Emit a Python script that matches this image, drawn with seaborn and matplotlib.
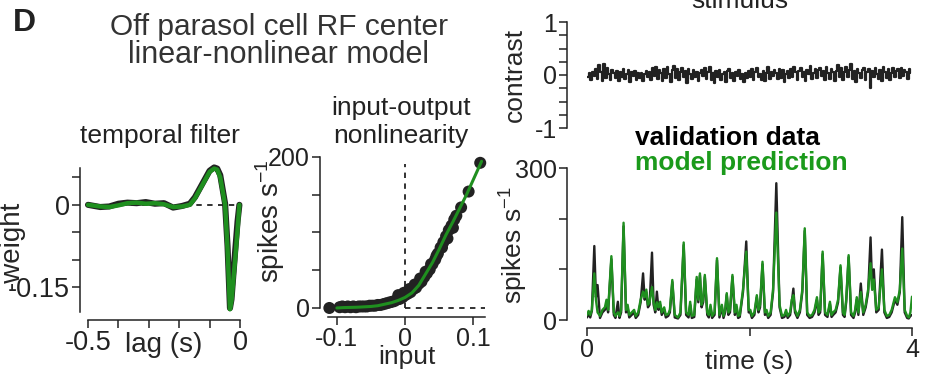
import numpy as np
import matplotlib
matplotlib.use("Agg")
import matplotlib.pyplot as plt
import seaborn as sns

# ---- data ----
# temporal filter (lag in s, -weight)
filt_lag = [-0.50, -0.46, -0.43, -0.40, -0.37, -0.34, -0.31, -0.28, -0.25, -0.22,
            -0.19, -0.165, -0.148, -0.12, -0.10, -0.085, -0.075, -0.065, -0.057,
            -0.049, -0.041, -0.033, -0.028, -0.016, -0.008, -0.002]
filt_model = [0.000, -0.003, -0.004, -0.001, 0.003, 0.004, 0.002, 0.003, 0.001, -0.004,
              -0.003, 0.000, 0.012, 0.040, 0.060, 0.066, 0.064, 0.050, 0.025,
              0.000, -0.080, -0.190, -0.175, -0.100, -0.045, 0.000]
filt_data = [0.000, -0.004, -0.003, 0.002, 0.004, 0.003, 0.005, 0.002, 0.003, -0.005,
             -0.002, 0.002, 0.014, 0.042, 0.062, 0.068, 0.066, 0.054, 0.028,
             0.002, -0.075, -0.188, -0.172, -0.085, -0.030, 0.000]

# input-output nonlinearity
nl_x = [-0.100, -0.090, -0.070, -0.050, -0.040, -0.030, -0.020, -0.010, 0.000, 0.010,
        0.020, 0.030, 0.040, 0.050, 0.060, 0.070, 0.080, 0.090, 0.100, 0.112]
nl_model = [0, 0.5, 1, 2, 3, 5, 7, 10, 14, 20, 30, 45, 60, 78, 97, 114, 132, 150, 170, 194]
nl_dot_x = [-0.111, -0.096, -0.092, -0.088, -0.084, -0.080, -0.076, -0.072, -0.068, -0.064,
            -0.060, -0.056, -0.052, -0.048, -0.044, -0.040, -0.036, -0.032, -0.028, -0.024,
            -0.020, -0.016, -0.012, -0.008, -0.004, 0.000, 0.004, 0.008, 0.012, 0.016,
            0.020, 0.024, 0.028, 0.032, 0.036, 0.040, 0.044, 0.048, 0.052, 0.056,
            0.060, 0.064, 0.068, 0.072, 0.075, 0.082, 0.093, 0.110,
            -0.010, -0.002, 0.006, 0.014, 0.022, 0.030, 0.038, 0.046, 0.054, 0.062, 0.070]
nl_dot_y = [0, 1, 2, 1, 2, 1, 2, 1, 2, 2,
            2, 2, 3, 3, 3, 4, 4, 5, 6, 7,
            8, 9, 11, 12, 14, 17, 19, 21, 25, 27,
            32, 35, 41, 46, 51, 58, 64, 72, 80, 87,
            95, 103, 109, 117, 122, 133, 154, 192,
            17, 20, 25, 31, 39, 48, 58, 69, 80, 92, 106]

# stimulus contrast, one value per 20 ms frame
frame_s = 0.02
stim = [-0.04, 0.03, -0.10, 0.06, -0.02, 0.12, -0.08, 0.18, 0.05, -0.12,
        0.20, -0.06, 0.14, 0.02, -0.09, 0.10, 0.04, -0.05, 0.08, -0.11,
        0.06, -0.03, 0.11, -0.07, 0.02, 0.09, -0.13, 0.05, -0.02, 0.07,
        -0.10, 0.03, -0.06, 0.04, -0.12, 0.01, 0.08, -0.04, 0.05, -0.09,
        0.13, -0.02, 0.16, -0.08, 0.10, 0.03, -0.11, 0.12, -0.05, 0.15,
        0.02, -0.14, 0.09, 0.17, -0.06, 0.11, -0.10, 0.06, 0.14, -0.03,
        0.08, -0.15, 0.12, 0.01, -0.07, 0.10, -0.04, 0.06, -0.12, 0.03,
        0.09, -0.02, 0.13, -0.08, 0.05, 0.15, -0.10, 0.04, -0.16, 0.07,
        -0.03, 0.10, -0.09, 0.02, 0.06, -0.13, 0.08, 0.12, -0.05, 0.03,
        -0.11, 0.05, -0.02, 0.09, -0.07, 0.01, -0.14, 0.04, -0.06, 0.08,
        -0.03, 0.11, -0.10, 0.06, 0.14, -0.04, 0.02, -0.09, 0.07, -0.12,
        0.03, 0.16, -0.07, 0.05, -0.02, 0.10, 0.04, -0.08, 0.12, -0.05,
        0.09, -0.13, 0.02, 0.07, -0.06, 0.11, -0.03, 0.15, 0.05, -0.09,
        0.08, 0.13, -0.04, 0.06, -0.11, 0.10, 0.02, 0.17, -0.08, 0.04,
        0.12, -0.06, 0.09, 0.14, -0.02, 0.07, -0.10, 0.16, 0.03, -0.07,
        0.11, 0.05, -0.12, 0.08, 0.18, -0.04, 0.13, -0.09, 0.06, 0.15,
        -0.03, 0.10, 0.20, -0.08, 0.07, -0.14, 0.12, 0.04, -0.06, 0.09,
        0.14, -0.10, 0.05, 0.11, -0.25, 0.08, -0.04, 0.13, 0.02, -0.07,
        0.10, -0.12, 0.16, 0.06, -0.05, 0.12, -0.09, 0.04, 0.14, -0.03,
        0.08, 0.11, -0.06, 0.13, -0.02, 0.09, 0.05, -0.08, 0.12, 0.03]

# firing rate traces (time s, spikes/s)
rate_t = [0.00, 0.02, 0.04, 0.06, 0.09, 0.11, 0.13, 0.16, 0.19, 0.22, 0.24, 0.26, 0.30, 0.33,
          0.35, 0.38, 0.40, 0.42, 0.45, 0.48, 0.50, 0.52, 0.55, 0.58, 0.60, 0.63, 0.66, 0.69,
          0.71, 0.73, 0.75, 0.77, 0.80, 0.82, 0.84, 0.86, 0.88, 0.90, 0.92, 0.95, 0.97, 1.00,
          1.02, 1.05, 1.08, 1.12, 1.15, 1.19, 1.22, 1.25, 1.27, 1.29, 1.32, 1.35, 1.37, 1.39,
          1.41, 1.43, 1.45, 1.48, 1.50, 1.52, 1.54, 1.57, 1.60, 1.63, 1.66, 1.68, 1.70, 1.72,
          1.74, 1.76, 1.79, 1.82, 1.84, 1.86, 1.88, 1.92, 1.96, 1.99, 2.01, 2.03, 2.06, 2.09,
          2.11, 2.13, 2.16, 2.19, 2.21, 2.23, 2.26, 2.29, 2.33, 2.37, 2.40, 2.43, 2.45, 2.47,
          2.50, 2.52, 2.54, 2.56, 2.59, 2.62, 2.65, 2.68, 2.71, 2.74, 2.77, 2.80, 2.83, 2.85,
          2.87, 2.90, 2.93, 2.96, 2.99, 3.01, 3.03, 3.06, 3.09, 3.12, 3.15, 3.17, 3.19, 3.22,
          3.25, 3.28, 3.30, 3.32, 3.34, 3.37, 3.40, 3.43, 3.46, 3.49, 3.51, 3.53, 3.56, 3.59,
          3.63, 3.66, 3.69, 3.72, 3.75, 3.79, 3.82, 3.85, 3.88, 3.91, 3.94, 3.96, 3.98, 4.00]
model_rate = [10, 18, 10, 20, 92, 40, 15, 8, 20, 25, 40, 20, 126, 15,
              8, 15, 8, 20, 192, 20, 30, 10, 15, 20, 8, 15, 40, 56,
              45, 60, 30, 35, 65, 35, 20, 35, 25, 36, 15, 25, 10, 12,
              20, 79, 10, 5, 15, 153, 15, 10, 36, 8, 10, 85, 40, 92,
              30, 40, 89, 15, 10, 30, 8, 15, 122, 10, 30, 8, 20, 53,
              15, 20, 89, 15, 30, 8, 10, 60, 135, 20, 20, 8, 15, 49,
              20, 30, 115, 15, 20, 8, 15, 60, 212, 30, 8, 10, 20, 8,
              15, 40, 49, 20, 8, 20, 60, 181, 15, 8, 10, 20, 45, 15,
              20, 135, 15, 10, 36, 10, 15, 20, 40, 108, 15, 10, 40, 128,
              15, 8, 20, 45, 15, 55, 15, 30, 60, 112, 60, 80, 20, 25,
              100, 20, 8, 10, 20, 45, 35, 60, 141, 20, 8, 5, 15, 46]
data_rate = [5, 12, 5, 18, 146, 45, 69, 4, 15, 20, 30, 15, 120, 10,
             4, 36, 4, 15, 185, 15, 25, 5, 10, 15, 4, 10, 35, 92,
             40, 55, 25, 30, 133, 30, 15, 56, 20, 30, 10, 20, 5, 8,
             15, 75, 5, 3, 10, 148, 10, 5, 30, 4, 6, 80, 35, 88,
             25, 35, 85, 10, 5, 25, 4, 10, 118, 5, 25, 4, 15, 50,
             10, 15, 85, 10, 25, 4, 6, 55, 155, 15, 15, 4, 10, 45,
             15, 25, 110, 10, 15, 4, 10, 55, 270, 25, 4, 6, 15, 4,
             10, 35, 62, 15, 4, 15, 55, 176, 10, 4, 6, 15, 40, 10,
             15, 130, 10, 6, 32, 6, 10, 15, 35, 104, 10, 6, 35, 124,
             10, 4, 15, 40, 10, 72, 10, 25, 55, 163, 60, 100, 15, 20,
             139, 15, 4, 6, 15, 40, 30, 55, 203, 15, 4, 3, 8, 10]

BLACK = "#222222"
GREEN = "#1f8f1f"
TEXT_GREEN = "#1b9a1b"

sns.set_style("ticks")
plt.rcParams["font.family"] = ["Liberation Sans", "DejaVu Sans"]
plt.rcParams.update({
    "font.size": 18,
    "axes.labelsize": 19,
    "axes.unicode_minus": False,
    "mathtext.default": "regular",
    "axes.linewidth": 1.1,
    "axes.edgecolor": BLACK,
    "xtick.major.size": 5.8,
    "ytick.major.size": 5.8,
    "xtick.major.width": 1.1,
    "ytick.major.width": 1.1,
    "xtick.major.pad": 1.5,
    "ytick.major.pad": 1.5,
    "xtick.color": BLACK,
    "ytick.color": BLACK,
    "text.color": BLACK,
})

W, H = 925, 377
fig = plt.figure(figsize=(W / 100, H / 100), dpi=100)


def px_axes(left, top, right, bottom):
    return fig.add_axes([left / W, 1 - bottom / H, (right - left) / W, (bottom - top) / H])


def pt(px):
    return px * 72 / 100


dash = (0, (3, 3))

# ---- temporal filter ----
ax1 = px_axes(88, 168, 240, 312)
ax1.axhline(0, color=BLACK, ls=dash, lw=1.3)
sns.lineplot(x=filt_lag, y=filt_data, ax=ax1, color=BLACK, lw=4.4, sort=False,
             estimator=None, clip_on=False)
sns.lineplot(x=filt_lag, y=filt_model, ax=ax1, color=GREEN, lw=3.2, sort=False,
             estimator=None, clip_on=False)
ax1.set_xlim(-0.5, 0)
ax1.set_ylim(-0.195, 0.067)
ax1.set_xticks([-0.5, -0.4, -0.3, -0.2, -0.1, 0])
ax1.set_xticklabels(["-0.5", "", "", "", "", "0"])
ax1.set_yticks([0.05, 0, -0.05, -0.1, -0.15])
ax1.set_yticklabels(["", "0", "", "", "-0.15"])
ax1.tick_params(labelsize=19.5)
sns.despine(ax=ax1, offset={"left": pt(8), "bottom": pt(8)})
ax1.set_xlabel("lag (s)", fontsize=20)
ax1.xaxis.set_label_coords(0.5, -0.14)
ax1.set_ylabel("-weight", fontsize=20)
ax1.yaxis.set_label_coords(-0.414, 0.46)

# ---- nonlinearity ----
ax2 = px_axes(328, 153, 485, 311)
ax2.plot([0, 0], [0, 190], color=BLACK, ls=dash, lw=1.3)
ax2.plot([0, 0.117], [0, 0], color=BLACK, ls=dash, lw=1.3)
sns.scatterplot(x=nl_dot_x, y=nl_dot_y, ax=ax2, color=BLACK, s=75, edgecolor="none",
                clip_on=False, zorder=3)
sns.lineplot(x=nl_x, y=nl_model, ax=ax2, color=GREEN, lw=2.2, sort=False, estimator=None,
             zorder=4)
ax2.set_xlim(-0.113, 0.117)
ax2.set_ylim(-4, 205)
ax2.set_xticks([-0.1, 0, 0.1])
ax2.set_xticklabels(["-0.1", "0", "0.1"])
ax2.set_yticks([0, 50, 100, 150, 200])
ax2.set_yticklabels(["0", "", "", "", "200"])
sns.despine(ax=ax2, offset={"left": pt(8), "bottom": pt(6)})
ax2.spines["left"].set_bounds(0, 200)
ax2.set_xlabel("input")
ax2.xaxis.set_label_coords(0.505, -0.215)
ax2.set_ylabel("spikes s$^{-1}$", fontsize=20)
ax2.yaxis.set_label_coords(-0.262, 0.57)

# ---- stimulus ----
ax3 = px_axes(587, 22, 912, 128)
stim_t = np.arange(len(stim)) * frame_s
sns.lineplot(x=stim_t, y=stim, ax=ax3, color=BLACK, lw=1.6, drawstyle="steps-post",
             sort=False, estimator=None)
ax3.set_xlim(0, 4)
ax3.set_ylim(-1, 1)
ax3.set_yticks([-1, -0.75, -0.5, -0.25, 0, 0.25, 0.5, 0.75, 1])
ax3.set_yticklabels(["-1", "", "", "", "0", "", "", "", "1"])
ax3.set_xticks([])
sns.despine(ax=ax3, bottom=True, offset={"left": pt(20)})
ax3.set_ylabel("contrast")
ax3.yaxis.set_label_coords(-0.185, 0.5)

# ---- firing rate ----
ax4 = px_axes(587, 168, 912, 320)
sns.lineplot(x=rate_t, y=data_rate, ax=ax4, color=BLACK, lw=1.7, sort=False, estimator=None)
sns.lineplot(x=rate_t, y=model_rate, ax=ax4, color=GREEN, lw=1.7, sort=False, estimator=None)
ax4.set_xlim(0, 4)
ax4.set_ylim(0, 300)
ax4.set_xticks([0, 2, 4])
ax4.set_xticklabels(["0", "", "4"])
ax4.set_yticks([0, 100, 200, 300])
ax4.set_yticklabels(["0", "", "", "300"])
sns.despine(ax=ax4, offset={"left": pt(20), "bottom": pt(8)})
ax4.set_xlabel("time (s)")
ax4.xaxis.set_label_coords(0.50, -0.197)
ax4.set_ylabel("spikes s$^{-1}$")
ax4.yaxis.set_label_coords(-0.175, 0.49)

# ---- text ----
fig.text(13 / W, 1 - 8 / H, "D", fontsize=23, fontweight="bold", va="top", ha="left")
fig.text(279 / W, 1 - 35 / H, "Off parasol cell RF center", fontsize=21.5, ha="center",
         va="baseline", color="#333333")
fig.text(278 / W, 1 - 63 / H, "linear-nonlinear model", fontsize=22, ha="center",
         va="baseline", color="#333333")
fig.text(160 / W, 1 - 143 / H, "temporal filter", fontsize=19, ha="center", va="baseline")
fig.text(401 / W, 1 - 115 / H, "input-output", fontsize=19, ha="center", va="baseline")
fig.text(401 / W, 1 - 143 / H, "nonlinearity", fontsize=19, ha="center", va="baseline")
fig.text(740 / W, 1 - 8 / H, "stimulus", fontsize=19, ha="center", va="baseline")
fig.text(635 / W, 1 - 145 / H, "validation data", fontsize=19, fontweight="bold",
         ha="left", va="baseline", color="black")
fig.text(635 / W, 1 - 170 / H, "model prediction", fontsize=19, fontweight="bold",
         ha="left", va="baseline", color=TEXT_GREEN)

fig.savefig("out.png", dpi=100)
